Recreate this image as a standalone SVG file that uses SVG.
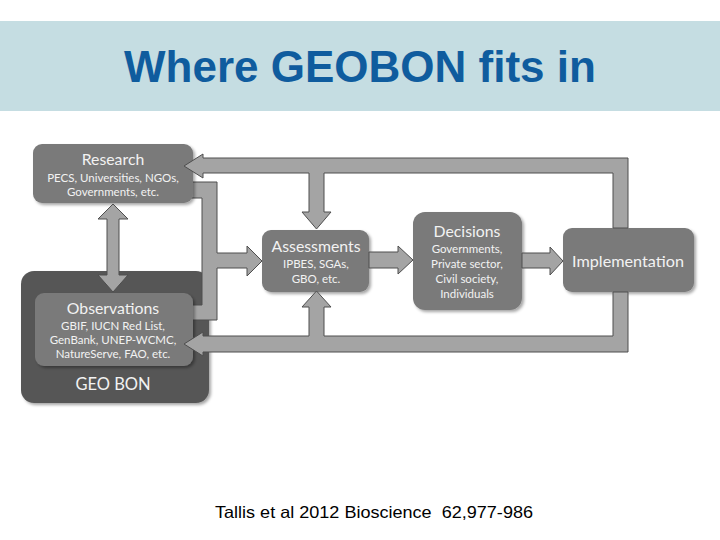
<svg xmlns="http://www.w3.org/2000/svg" width="720" height="540" viewBox="0 0 720 540">
<defs>
<style>
.box{fill:#7a7a7a;}
.arr{fill:#a4a4a4;stroke:#4e4e4e;stroke-width:1;stroke-linejoin:miter;}
.t{font-family:Lato,"Open Sans","DejaVu Sans",sans-serif;fill:#f2f2f2;text-anchor:middle;}
.h{font-size:15.8px;}
.s{font-size:11.5px;}
</style>
<filter id="sh" x="-10%" y="-10%" width="125%" height="130%">
<feDropShadow dx="2" dy="2" stdDeviation="1.5" flood-color="#000" flood-opacity="0.35"/>
</filter>
</defs>
<rect width="720" height="540" fill="#ffffff"/>
<rect x="0" y="21" width="720" height="90" fill="#c5dde2"/>
<text x="360" y="82" text-anchor="middle" font-family="'Liberation Sans',Arial,sans-serif" font-weight="bold" font-size="44" fill="#0f5c9e">Where GEOBON fits in</text>

<g id="geobon">
<rect x="21" y="271" width="188" height="132" rx="13" fill="#575757" filter="url(#sh)"/>
<text class="t" x="113" y="390" font-size="16.5px">GEO BON</text>
</g>

<g id="connectors">
<polygon id="bracket" class="arr" points="190,182 217,182 217,253 247,253 247,246 262,261 247,276 247,268 217,268 217,320 190,320 190,305 202,305 202,198 190,198"/>
</g>

<g id="research">
<rect class="box" x="33" y="144" width="160" height="59" rx="9" filter="url(#sh)"/>
<text class="t h" x="113" y="165">Research</text>
<text class="t s" x="113" y="182">PECS, Universities, NGOs,</text>
<text class="t s" x="113" y="196">Governments, etc.</text>
</g>

<g id="observations">
<rect class="box" x="35" y="293" width="158" height="73" rx="9" fill="#838383" filter="url(#sh)"/>
<text class="t h" x="113" y="314">Observations</text>
<text class="t s" x="113" y="330">GBIF, IUCN Red List,</text>
<text class="t s" x="113" y="344">GenBank, UNEP-WCMC,</text>
<text class="t s" x="113" y="358">NatureServe, FAO, etc.</text>
</g>

<g id="assessments">
<rect class="box" x="262" y="230" width="107" height="62" rx="9" filter="url(#sh)"/>
<text class="t h" x="316" y="252">Assessments</text>
<text class="t s" x="316" y="268">IPBES, SGAs,</text>
<text class="t s" x="316" y="283">GBO, etc.</text>
</g>

<g id="decisions">
<rect class="box" x="413" y="212" width="109" height="98" rx="12" filter="url(#sh)"/>
<text class="t h" x="467" y="237">Decisions</text>
<text class="t s" x="467" y="253">Governments,</text>
<text class="t s" x="467" y="268">Private sector,</text>
<text class="t s" x="467" y="283">Civil society,</text>
<text class="t s" x="467" y="298">Individuals</text>
</g>

<g id="implementation">
<rect class="box" x="563" y="228" width="131" height="64" rx="9" filter="url(#sh)"/>
<text class="t" x="628" y="267" font-size="16.2px">Implementation</text>
</g>

<g id="connectors2">
<polygon class="arr" points="628,158 628,228 613,228 613,173 324,173 324,212 331,212 316.5,229 302,212 309,212 309,173 203,173 203,178 184,166 203,154 203,158"/>
<polygon class="arr" points="613,292 628,292 628,352 203,352 203,356 184,344 203,332 203,336 309,336 309,307 302,307 316.5,291 331,307 324,307 324,336 613,336"/>
<polygon class="arr" points="113,204 128,219 119,219 119,275 128,275 113,292 98,275 107,275 107,219 98,219"/>
<polygon class="arr" points="369,252 398,252 398,246 413,260 398,274 398,268 369,268"/>
<polygon class="arr" points="522,253 550,253 550,247 563,261 550,275 550,268 522,268"/>
</g>

<text x="215" y="518" font-family="'Liberation Sans',Arial,sans-serif" font-size="16.5" fill="#000" textLength="318" lengthAdjust="spacingAndGlyphs" xml:space="preserve">Tallis et al 2012 Bioscience  62,977-986</text>
</svg>
